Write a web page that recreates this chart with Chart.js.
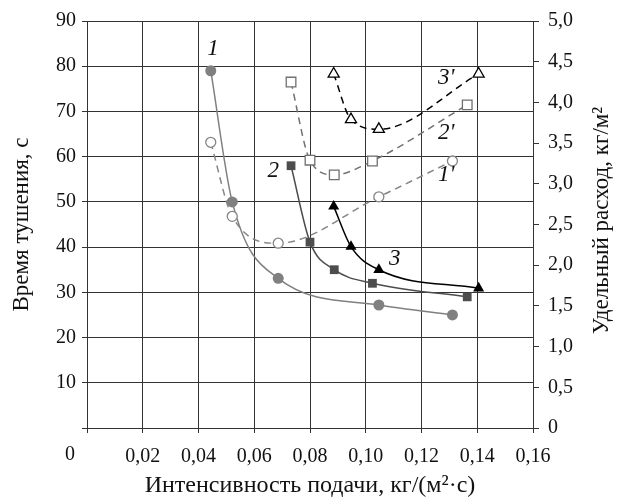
<!DOCTYPE html>
<html>
<head>
<meta charset="utf-8">
<script src="https://cdn.jsdelivr.net/npm/chart.js@4.4.0/dist/chart.umd.min.js"></script>
<style>
  body { margin: 0; background: #fff; }
  canvas { display: block; }
</style>
</head>
<body>
<canvas id="chart" width="625" height="498"></canvas>
<script>
// intensity of supply, kg/(m2*s)
const x1 = [0.0444, 0.0521, 0.0686, 0.1047, 0.1311];
const x2 = [0.0732, 0.0800, 0.0887, 0.1024, 0.1364];
const x3 = [0.0885, 0.0947, 0.1047, 0.1405];
// extinguishing time, s (left axis)
const time1 = [79, 50, 33.1, 27.2, 25];
const time2 = [58, 41.1, 35, 32, 29];
const time3 = [49, 40.1, 35, 30.9];
// specific consumption, kg/m2 (right axis)
const spec1 = [3.51, 2.60, 2.27, 2.84, 3.28];
const spec2 = [4.25, 3.29, 3.11, 3.28, 3.97];
const spec3 = [4.35, 3.79, 3.67, 4.35];
// curve labels: text, x, y (left axis units)
const labelText = ['1', '2', '3', "1'", "2'", "3'"];
const labelX = [0.0452, 0.0668, 0.1104, 0.1289, 0.1289, 0.1289];
const labelY = [83.9, 56.9, 37.3, 55.9, 65.3, 77.4];

const FONT = '"Liberation Serif", "Times New Roman", serif';
const GRID = '#333';
const TEXT = '#111';

function pts(xs, ys) {
  return xs.map((x, i) => ({ x: x, y: ys[i] }));
}

function comma(v, d) {
  return v.toFixed(d).replace('.', ',');
}

function series(xs, ys, axis, color, style, radius, filled, dashed) {
  return {
    data: pts(xs, ys),
    yAxisID: axis,
    showLine: true,
    borderColor: color,
    borderWidth: 1.5,
    borderDash: dashed ? [7, 5] : [],
    cubicInterpolationMode: 'monotone',
    pointStyle: style,
    pointRadius: radius,
    pointBackgroundColor: filled ? color : '#fff',
    pointBorderColor: color,
    pointBorderWidth: filled ? 0 : 1.3
  };
}

// curve labels, origin "0" and the three axis titles
const labelsPlugin = {
  id: 'curveLabels',
  afterDatasetsDraw(chart) {
    const ctx = chart.ctx;
    const xs = chart.scales.x, ys = chart.scales.y;
    const area = chart.chartArea;
    const midX = (area.left + area.right) / 2;
    const midY = (area.top + area.bottom) / 2;
    ctx.save();
    ctx.fillStyle = TEXT;
    ctx.textAlign = 'center';
    ctx.textBaseline = 'middle';
    ctx.font = 'italic 23px ' + FONT;
    labelText.forEach((t, i) => {
      ctx.fillText(t, xs.getPixelForValue(labelX[i]), ys.getPixelForValue(labelY[i]));
    });

    ctx.font = '20px ' + FONT;
    ctx.textBaseline = 'top';
    ctx.fillText('0', xs.getPixelForValue(0) - 17, xs.top + 17);

    ctx.font = '24px ' + FONT;
    ctx.textBaseline = 'middle';
    ctx.fillText('Интенсивность подачи, кг/(м²·с)', midX, 486);

    ctx.font = '23px ' + FONT;
    ctx.save();
    ctx.translate(22, midY);
    ctx.rotate(-Math.PI / 2);
    ctx.fillText('Время тушения, с', 0, 0);
    ctx.restore();

    ctx.save();
    ctx.translate(602, midY - 4);
    ctx.rotate(-Math.PI / 2);
    ctx.fillText('Удельный расход, кг/м²', 0, 0);
    ctx.restore();
    ctx.restore();
  }
};

new Chart(document.getElementById('chart'), {
  type: 'scatter',
  data: {
    datasets: [
      series(x1, spec1, 'y2', '#858585', 'circle', 5, false, true),
      series(x2, spec2, 'y2', '#707070', 'rect', 6.8, false, true),
      series(x3, spec3, 'y2', '#000', 'triangle', 6.4, false, true),
      series(x1, time1, 'y', '#808080', 'circle', 5.5, true, false),
      series(x2, time2, 'y', '#4d4d4d', 'rect', 6.2, true, false),
      series(x3, time3, 'y', '#000', 'triangle', 6.4, true, false)
    ]
  },
  options: {
    responsive: false,
    animation: false,
    layout: { padding: { top: 17, left: 0, right: 0, bottom: 0 } },
    plugins: { legend: { display: false }, tooltip: { enabled: false } },
    scales: {
      x: {
        type: 'linear',
        min: 0,
        max: 0.16,
        afterFit: s => { s.height = 70; },
        ticks: {
          stepSize: 0.02,
          color: TEXT,
          font: { family: FONT, size: 20 },
          padding: 12,
          maxRotation: 0,
          callback: v => (Math.abs(v) < 1e-9 ? '' : comma(v, 2))
        },
        grid: { color: GRID, lineWidth: 1, tickLength: 5 },
        border: { color: GRID, width: 1 }
      },
      y: {
        position: 'left',
        min: 0,
        max: 90,
        afterFit: s => { s.width = 87; },
        ticks: {
          stepSize: 10,
          color: TEXT,
          font: { family: FONT, size: 20 },
          padding: 6,
          callback: v => (v === 0 ? '' : String(v))
        },
        grid: { color: GRID, lineWidth: 1, tickLength: 5 },
        border: { color: GRID, width: 1 }
      },
      y2: {
        position: 'right',
        min: 0,
        max: 5,
        afterFit: s => { s.width = 92; },
        ticks: {
          stepSize: 0.5,
          color: TEXT,
          font: { family: FONT, size: 20 },
          padding: 9,
          callback: v => (v === 0 ? '0' : comma(v, 1))
        },
        grid: { drawOnChartArea: false, color: GRID, lineWidth: 1, tickLength: 6 },
        border: { color: GRID, width: 1 }
      }
    }
  },
  plugins: [labelsPlugin]
});
</script>
</body>
</html>
